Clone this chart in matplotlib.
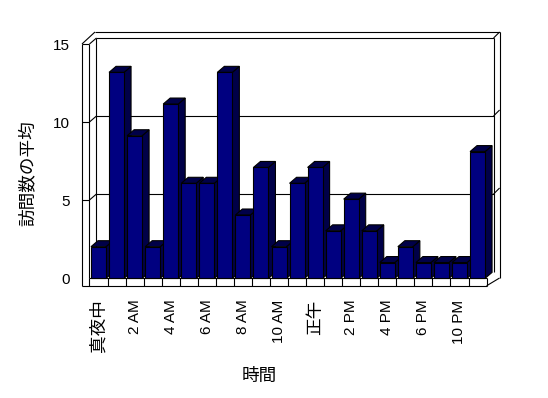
import matplotlib
matplotlib.use("Agg")
import matplotlib.pyplot as plt
from matplotlib.patches import Polygon, Rectangle

# ---------------- data ----------------
categories = ["真夜中", "1 AM", "2 AM", "3 AM", "4 AM", "5 AM", "6 AM", "7 AM",
              "8 AM", "9 AM", "10 AM", "11 AM", "正午", "1 PM", "2 PM", "3 PM",
              "4 PM", "5 PM", "6 PM", "7 PM", "10 PM", "11 PM"]
visits = [2, 13, 9, 2, 11, 6, 6, 13, 4, 7, 2, 6, 7, 3, 5, 3, 1, 2, 1, 1, 1, 8]
y_ticks = [0, 5, 10, 15]
x_label = "時間"
y_label = "訪問数の平均"

# ---------------- style / layout ----------------
NAVY = "#000080"
SHADE = "#000048"
LATIN = ["Liberation Sans", "DejaVu Sans"]
CJK = ["Noto Sans CJK JP", "DejaVu Sans"]
LAT_SIZE = 11
CJK_SIZE = 12.7
LW = 0.8

W, H = 548, 398
fig = plt.figure(figsize=(W / 100, H / 100), dpi=100)
fig.patch.set_facecolor("white")

# pixel layout
L, R, T, B = 74, 512, 10, 298
X0, XS = 98.5, 18.05          # px of first category centre, px per category
BAR_Y0, BAR_YS = 278.4, 15.85  # bar front plane: px of zero, px per unit
FR_Y0, FR_YS = 278.0, 15.6     # frame (walls): px of zero, px per unit
DXP, DYP = 7.0, 6.0            # depth offset in px
THK = 6.0                      # back wall thickness px

rect = [L / W, 1 - B / H, (R - L) / W, (B - T) / H]
xlim = ((L - X0) / XS, (R - X0) / XS)

axf = fig.add_axes(rect)
axb = fig.add_axes(rect)
axb.patch.set_visible(False)
for a in (axf, axb):
    a.set_xlim(xlim)
    for s in a.spines.values():
        s.set_visible(False)
axf.set_ylim((FR_Y0 - B) / FR_YS, (FR_Y0 - T) / FR_YS)
axb.set_ylim((BAR_Y0 - B) / BAR_YS, (BAR_Y0 - T) / BAR_YS)

n = len(visits)
# ---------------- frame (walls, floor, gridlines) ----------------
dx, dy = DXP / XS, DYP / FR_YS
tx, ty = THK / XS, THK / FR_YS
xa, xb = -0.5, n - 0.5
xo = xa - 7.5 / XS
vmax = y_ticks[-1]
vfl = -7.8 / FR_YS


def line(xs, ys, ax=axf, z=2):
    ax.plot(xs, ys, color="black", lw=LW, solid_capstyle="butt", zorder=z)


# floor front face
axf.add_patch(Rectangle((xa, vfl), xb - xa, -vfl, facecolor="white",
                        edgecolor="none", zorder=1))
line([xa, xb], [0, 0])
line([xo, xb], [vfl, vfl])
for k in range(n + 1):
    line([xa + k, xa + k], [vfl, 0])

# left wall front face
line([xo, xo], [vfl, vmax])
line([xa, xa], [0, vmax])
line([xo, xa], [vmax, vmax])
# left wall top
line([xo, xo + 13 / XS], [vmax, vmax + 12 / FR_YS])
line([xa, xa + dx], [vmax, vmax + dy])
# left inner back edge
line([xa + dx, xa + dx], [dy, vmax + dy])
# back wall inner top edge and right edge
line([xa + dx, xb + dx], [vmax + dy, vmax + dy])
line([xb + dx, xb + dx], [dy, vmax + dy])
# outer back top and right
line([xo + 13 / XS, xb + dx + tx], [vmax + 12 / FR_YS, vmax + dy + ty])
line([xb + dx, xb + dx + tx], [vmax + dy, vmax + dy + ty])
line([xb + dx + tx, xb + dx + tx], [0, vmax + dy + ty])
line([xb, xb + dx + tx], [vfl, 0])

# gridlines
for v in y_ticks[1:-1]:
    line([xo, xa], [v, v])
    line([xa, xa + dx], [v, v + dy])
    line([xa + dx, xb + dx], [v + dy, v + dy])
    line([xb + dx, xb + dx + tx], [v + dy, v + dy + ty])

axf.set_xticks([])
axf.set_yticks(y_ticks)
axf.set_yticklabels([str(v) for v in y_ticks], fontfamily=LATIN, fontsize=LAT_SIZE)
axf.tick_params(axis="y", length=0, pad=4 * 0.72)

# ---------------- bars ----------------
w = 15.0 / XS
bdx, bdy = DXP / XS, DYP / BAR_YS
bars = axb.bar(range(n), visits, width=w, color=NAVY, edgecolor="black",
               linewidth=LW)
for i, (bar, v) in enumerate(zip(bars, visits)):
    z = 3 + i
    bar.set_zorder(z + 0.5)
    xl, xr = i - w / 2, i + w / 2
    side = Polygon([(xr, 0), (xr + bdx, bdy), (xr + bdx, v + bdy), (xr, v)],
                   closed=True, facecolor=SHADE, edgecolor="black", lw=LW, zorder=z)
    top = Polygon([(xl, v), (xl + bdx, v + bdy), (xr + bdx, v + bdy), (xr, v)],
                  closed=True, facecolor=SHADE, edgecolor="black", lw=LW, zorder=z)
    axb.add_patch(side)
    axb.add_patch(top)

axb.set_yticks([])
axb.set_xticks(list(range(0, n, 2)))
axb.set_xticklabels(categories[::2], rotation=90)
axb.tick_params(axis="x", length=0, pad=1)
for t in axb.get_xticklabels():
    if t.get_text().isascii():
        t.set_fontfamily(LATIN)
        t.set_fontsize(LAT_SIZE)
    else:
        t.set_fontfamily(CJK)
        t.set_fontsize(CJK_SIZE)

# axis titles
axb.set_xlabel(x_label, fontfamily=CJK, fontsize=CJK_SIZE)
axb.xaxis.label.set_verticalalignment("center")
axb.xaxis.set_label_coords((259 - L) / (R - L), (B - 376) / (B - T))
axf.set_ylabel(y_label, fontfamily=CJK, fontsize=CJK_SIZE)
axf.yaxis.label.set_verticalalignment("center")
axf.yaxis.set_label_coords((28 - L) / (R - L), (B - 173.5) / (B - T))

fig.savefig("out.png", dpi=100, facecolor="white")
